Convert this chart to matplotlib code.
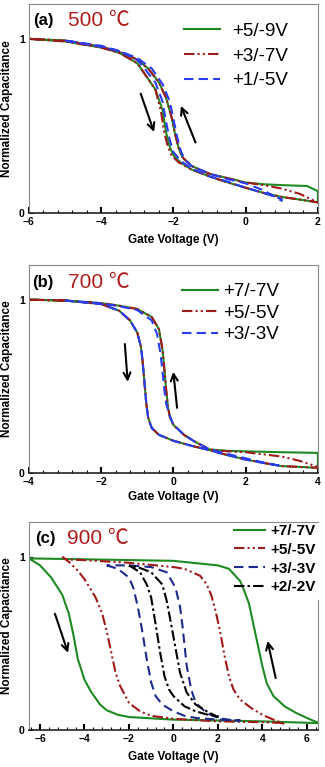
import matplotlib
matplotlib.use("Agg")
import matplotlib.pyplot as plt
from matplotlib.ticker import MultipleLocator

plt.rcParams['font.family'] = ['Liberation Sans', 'Noto Sans CJK SC', 'DejaVu Sans']

# ---------------- panel (a) 500 C ----------------
a_labels = ["+5/-9V", "+3/-7V", "+1/-5V"]
a_green_v = [-6, -5, -4, -3.5, -3, -2.8, -2.5, -2.3, -2.2, -2.1, -2.0, -1.8, -1.5, -1, -0.5, 0, 0.5, 1, 1.5, 2,
             2, 1.7, 1, 0.5, 0, -0.5, -1, -1.5, -1.75, -1.85, -1.95, -2.05, -2.2, -2.4, -2.7, -3, -3.3, -4, -5, -6]
a_green_c = [1.0, 0.985, 0.95, 0.92, 0.86, 0.80, 0.71, 0.59, 0.46, 0.38, 0.33, 0.29, 0.25, 0.21, 0.176, 0.145, 0.115, 0.092, 0.077, 0.061,
             0.125, 0.155, 0.16, 0.165, 0.175, 0.20, 0.225, 0.27, 0.32, 0.37, 0.45, 0.55, 0.66, 0.75, 0.83, 0.88, 0.91, 0.955, 0.99, 1.0]
a_red_v = [-6, -5, -4, -3.5, -3, -2.8, -2.5, -2.35, -2.25, -2.15, -2.05, -1.85, -1.5, -1, -0.5, 0, 0.5, 1, 1.5, 2,
           2, 1.5, 1, 0.5, 0, -0.5, -1, -1.5, -1.75, -1.85, -1.95, -2.05, -2.2, -2.4, -2.7, -3, -3.3, -4, -5, -6]
a_red_c = [1.0, 0.985, 0.95, 0.92, 0.86, 0.80, 0.71, 0.59, 0.46, 0.38, 0.33, 0.29, 0.25, 0.21, 0.176, 0.145, 0.115, 0.092, 0.077, 0.061,
           0.06, 0.11, 0.14, 0.16, 0.175, 0.20, 0.225, 0.27, 0.32, 0.37, 0.45, 0.55, 0.66, 0.75, 0.83, 0.88, 0.91, 0.955, 0.99, 1.0]
a_blue_v = [-5, -4, -3.5, -3, -2.8, -2.5, -2.3, -2.2, -2.1, -2.0, -1.8, -1.5, -1, -0.5, 0, 0.5, 1,
            1, 0.5, 0, -0.5, -1, -1.5, -1.7, -1.8, -1.9, -2.0, -2.1, -2.3, -2.6, -3, -3.5, -4, -5]
a_blue_c = [0.99, 0.955, 0.93, 0.88, 0.83, 0.75, 0.64, 0.52, 0.42, 0.35, 0.30, 0.255, 0.21, 0.18, 0.145, 0.115, 0.08,
            0.07, 0.13, 0.17, 0.195, 0.225, 0.27, 0.31, 0.36, 0.44, 0.54, 0.64, 0.74, 0.83, 0.89, 0.93, 0.96, 0.99]

# ---------------- panel (b) 700 C ----------------
b_labels = ["+7/-7V", "+5/-5V", "+3/-3V"]
b_green_v = [-4, -3, -2, -1.5, -1.2, -1.0, -0.9, -0.85, -0.8, -0.75, -0.7, -0.6, -0.4, 0, 0.5, 1, 1.5, 2, 2.5, 3, 4,
             4, 3, 2, 1.5, 1, 0.6, 0.3, 0, -0.1, -0.15, -0.2, -0.25, -0.3, -0.4, -0.6, -1, -1.5, -2, -3, -4]
b_green_c = [1.0, 0.995, 0.975, 0.936, 0.88, 0.81, 0.73, 0.64, 0.52, 0.40, 0.32, 0.26, 0.22, 0.186, 0.157, 0.132, 0.103, 0.078, 0.058, 0.04, 0.03,
             0.116, 0.12, 0.125, 0.128, 0.136, 0.18, 0.219, 0.277, 0.326, 0.38, 0.48, 0.60, 0.71, 0.83, 0.90, 0.946, 0.965, 0.98, 0.995, 1.0]
b_red_v = [-4, -3, -2, -1.5, -1.2, -1.0, -0.9, -0.85, -0.8, -0.75, -0.7, -0.6, -0.4, 0, 0.5, 1, 1.5, 2, 2.5, 3, 4,
           4, 3.5, 3, 2, 1.5, 1, 0.6, 0.3, 0, -0.1, -0.15, -0.2, -0.25, -0.3, -0.4, -0.6, -1, -1.5, -2, -3, -4]
b_red_c = [1.0, 0.995, 0.975, 0.936, 0.88, 0.81, 0.73, 0.64, 0.52, 0.40, 0.32, 0.26, 0.22, 0.186, 0.157, 0.132, 0.103, 0.078, 0.058, 0.04, 0.03,
           0.035, 0.07, 0.095, 0.12, 0.125, 0.136, 0.18, 0.219, 0.277, 0.326, 0.38, 0.48, 0.60, 0.71, 0.83, 0.90, 0.946, 0.965, 0.98, 0.995, 1.0]
b_blue_v = [-3, -2, -1.5, -1.2, -1.0, -0.9, -0.85, -0.8, -0.75, -0.7, -0.6, -0.4, 0, 0.5, 1, 1.5, 2, 2.5, 3,
            3, 2.5, 2, 1.5, 1, 0.6, 0.3, 0, -0.1, -0.2, -0.25, -0.3, -0.35, -0.45, -0.6, -1, -1.5, -2, -3]
b_blue_c = [0.995, 0.975, 0.936, 0.88, 0.81, 0.73, 0.64, 0.52, 0.40, 0.32, 0.26, 0.22, 0.186, 0.157, 0.132, 0.103, 0.078, 0.058, 0.04,
            0.04, 0.06, 0.085, 0.11, 0.136, 0.18, 0.219, 0.28, 0.33, 0.40, 0.48, 0.58, 0.68, 0.80, 0.88, 0.94, 0.962, 0.978, 0.995]

# ---------------- panel (c) 900 C ----------------
c_labels = ["+7/-7V", "+5/-5V", "+3/-3V", "+2/-2V"]
c_green_v = [-6.5, -6, -5.5, -5, -4.7, -4.5, -4.3, -4.0, -3.7, -3.3, -3, -2.5, -2, 0, 4, 6.5,
             6.5, 6, 5.5, 5, 4.5, 4.2, 4.0, 3.8, 3.6, 3.4, 3.2, 3, 2.5, 2, 0, -4, -6.5]
c_green_c = [0.99, 0.95, 0.88, 0.78, 0.67, 0.55, 0.41, 0.29, 0.22, 0.147, 0.114, 0.088, 0.075, 0.06, 0.05, 0.04,
             0.043, 0.07, 0.10, 0.137, 0.196, 0.27, 0.37, 0.49, 0.61, 0.73, 0.80, 0.86, 0.93, 0.95, 0.976, 0.985, 0.99]
c_red_v = [-5, -4.7, -4.3, -4, -3.5, -3.2, -3, -2.8, -2.6, -2.4, -2, -1.5, -1, 0, 2, 4, 5,
           5, 4.5, 4, 3.5, 3, 2.7, 2.5, 2.3, 2.1, 1.9, 1.7, 1.5, 1.2, 0.5, 0, -2, -4, -5]
c_red_c = [1.0, 0.97, 0.92, 0.87, 0.765, 0.67, 0.57, 0.45, 0.33, 0.255, 0.157, 0.108, 0.082, 0.065, 0.05, 0.045, 0.04,
           0.035, 0.06, 0.088, 0.127, 0.176, 0.235, 0.31, 0.43, 0.57, 0.686, 0.78, 0.84, 0.89, 0.93, 0.94, 0.965, 0.98, 0.985]
c_blue_v = [-3, -2.5, -2, -1.8, -1.6, -1.4, -1.2, -1.0, -0.8, -0.5, 0, 0.5, 1, 2, 3,
            3, 2.5, 2, 1.5, 1.0, 0.8, 0.6, 0.5, 0.4, 0.3, 0.1, -0.3, -1, -2, -3]
c_blue_c = [0.95, 0.93, 0.88, 0.82, 0.71, 0.57, 0.41, 0.275, 0.196, 0.147, 0.108, 0.082, 0.07, 0.06, 0.055,
            0.055, 0.059, 0.07, 0.098, 0.157, 0.235, 0.37, 0.49, 0.61, 0.71, 0.82, 0.91, 0.94, 0.95, 0.95]
c_black_v = [-2, -1.5, -1.2, -1, -0.8, -0.6, -0.4, -0.2, 0, 0.5, 1, 1.5, 2,
             2, 1.5, 1, 0.6, 0.3, 0.1, -0.1, -0.3, -0.5, -1, -1.5, -2]
c_black_c = [0.95, 0.91, 0.84, 0.765, 0.61, 0.45, 0.31, 0.235, 0.196, 0.137, 0.108, 0.09, 0.08,
             0.075, 0.108, 0.147, 0.216, 0.33, 0.47, 0.61, 0.745, 0.84, 0.91, 0.935, 0.95]

GREEN = "#1f8a24"
RED = "#9e1a1a"
BLUE = "#2a3cf0"
NAVY = "#1e2a8a"
DASHDOTDOT = (0, (5, 1.5, 1, 1.5, 1, 1.5))
DASHED = (0, (4.5, 2.5))
DASHDOT = (0, (5, 1.5, 1.2, 1.5))

fig = plt.figure(figsize=(3.25, 7.67), dpi=100)
ax_a = fig.add_axes([0.089, 0.7223, 0.889, 0.2725])
ax_b = fig.add_axes([0.089, 0.3833, 0.889, 0.2712])
ax_c = fig.add_axes([0.089, 0.0482, 0.889, 0.2712])


def style(ax, xlim, xticks, xlabel_y):
    ax.set_xlim(*xlim)
    ax.set_ylim(0, 1.2)
    ax.set_xticks(xticks)
    ax.set_yticks([0, 1])
    ax.xaxis.set_minor_locator(MultipleLocator(0.4))
    ax.tick_params(axis='x', which='major', direction='in', length=4.5, width=1.5, pad=3,
                   labelsize=7.5)
    ax.tick_params(axis='x', which='minor', direction='in', length=2.3, width=0.8)
    ax.tick_params(axis='y', which='major', direction='in', length=3, width=0.8, pad=3, labelsize=7.5)
    ax.tick_params(top=False, right=False)
    for lab in ax.get_xticklabels() + ax.get_yticklabels():
        lab.set_fontweight('bold')
    for s in ['top', 'right', 'left']:
        ax.spines[s].set_color('#8a8a8a')
    ax.spines['bottom'].set_color('#222222')
    ax.spines['bottom'].set_linewidth(1.2)
    ax.set_xlabel("Gate Voltage (V)", fontsize=8.5, fontweight='bold')
    ax.set_ylabel("Normalized Capacitance", fontsize=8.5, fontweight='bold')
    ax.yaxis.set_label_coords(-0.055, 0.5)
    ax.xaxis.set_label_coords(0.5, xlabel_y)


def arrow(ax, start, end):
    ax.annotate("", xy=end, xytext=start,
                arrowprops=dict(arrowstyle="->,head_length=0.5,head_width=0.25", color='black', lw=1.5))


# (a)
ax_a.plot(a_green_v, a_green_c, color=GREEN, lw=1.5, label=a_labels[0])
ax_a.plot(a_red_v, a_red_c, color=RED, lw=1.5, ls=DASHDOTDOT, label=a_labels[1])
ax_a.plot(a_blue_v, a_blue_c, color=BLUE, lw=1.5, ls=DASHED, label=a_labels[2])
style(ax_a, (-6, 2), [-6, -4, -2, 0, 2], -0.1)
arrow(ax_a, (-2.93, 0.70), (-2.51, 0.45))
arrow(ax_a, (-1.36, 0.39), (-1.82, 0.63))
ax_a.text(0.014, 0.923, "(a)", transform=ax_a.transAxes, fontsize=12, fontweight='bold', va='center')
ax_a.text(0.135, 0.923, "500 ℃", transform=ax_a.transAxes, fontsize=15, color='#b01c1c', va='center')
ax_a.legend(loc='upper left', bbox_to_anchor=(0.537, 0.91), frameon=False, fontsize=13.5,
            handlelength=1.9, handletextpad=0.65, labelspacing=0.4, borderpad=0, borderaxespad=0)

# (b)
ax_b.plot(b_green_v, b_green_c, color=GREEN, lw=1.5, label=b_labels[0])
ax_b.plot(b_red_v, b_red_c, color=RED, lw=1.5, ls=DASHDOTDOT, label=b_labels[1])
ax_b.plot(b_blue_v, b_blue_c, color=BLUE, lw=1.5, ls=DASHED, label=b_labels[2])
style(ax_b, (-4, 4), [-4, -2, 0, 2, 4], -0.087)
arrow(ax_b, (-1.35, 0.76), (-1.26, 0.51))
arrow(ax_b, (0.11, 0.36), (-0.01, 0.60))
ax_b.text(0.012, 0.918, "(b)", transform=ax_b.transAxes, fontsize=12, fontweight='bold', va='center')
ax_b.text(0.135, 0.918, "700 ℃", transform=ax_b.transAxes, fontsize=15, color='#b01c1c', va='center')
ax_b.legend(loc='upper left', bbox_to_anchor=(0.53, 0.912), frameon=False, fontsize=13.5,
            handlelength=1.9, handletextpad=0.3, labelspacing=0.23, borderpad=0, borderaxespad=0)

# (c)
ax_c.plot(c_green_v, c_green_c, color=GREEN, lw=1.5, label=c_labels[0])
ax_c.plot(c_red_v, c_red_c, color=RED, lw=1.5, ls=DASHDOTDOT, label=c_labels[1])
ax_c.plot(c_blue_v, c_blue_c, color=NAVY, lw=1.5, ls=DASHED, label=c_labels[2])
ax_c.plot(c_black_v, c_black_c, color='black', lw=1.5, ls=DASHDOT, label=c_labels[3])
style(ax_c, (-6.5, 6.5), [-6, -4, -2, 0, 2, 4, 6], -0.1)
ax_c.spines['right'].set_bounds(0, 0.75)
arrow(ax_c, (-5.37, 0.686), (-4.70, 0.43))
arrow(ax_c, (4.63, 0.284), (4.21, 0.53))
ax_c.text(0.021, 0.923, "(c)", transform=ax_c.transAxes, fontsize=12, fontweight='bold', va='center')
ax_c.text(0.131, 0.923, "900 ℃", transform=ax_c.transAxes, fontsize=15, color='#b01c1c', va='center')
ax_c.legend(loc='upper left', bbox_to_anchor=(0.71, 0.99), frameon=False,
            prop={'size': 11, 'weight': 'bold'},
            handlelength=2.0, handletextpad=0.4, labelspacing=0.31, borderpad=0, borderaxespad=0)

fig.savefig("out.png", dpi=100)
